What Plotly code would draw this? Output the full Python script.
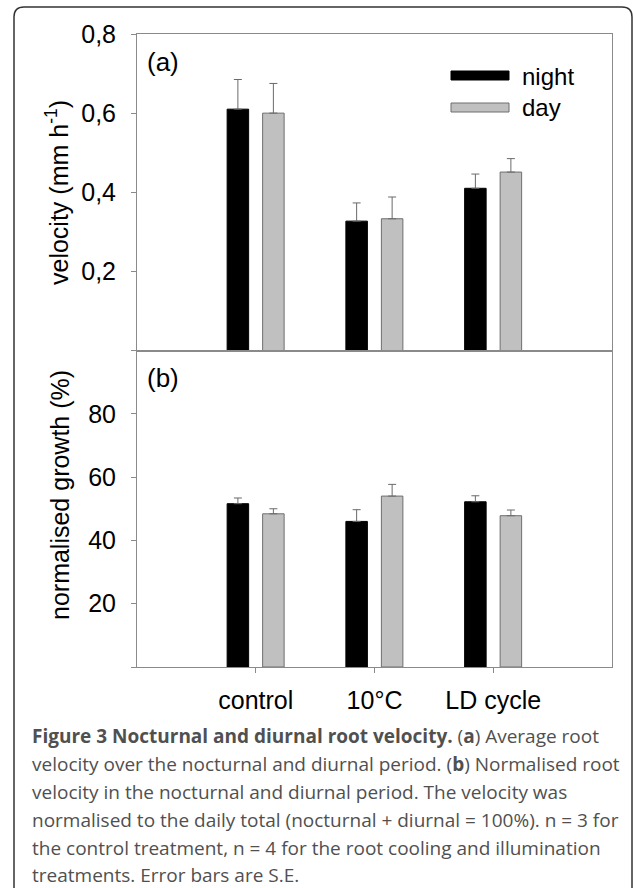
import plotly.graph_objects as go

# ---- data ----
categories = ["control", "10°C", "LD cycle"]
cat_pos = [1, 2, 3]

vel_night = [0.61, 0.327, 0.41]
vel_night_err = [0.075, 0.046, 0.036]
vel_day = [0.60, 0.333, 0.451]
vel_day_err = [0.075, 0.055, 0.034]

norm_night = [51.6, 46.0, 52.2]
norm_night_err = [1.8, 3.7, 1.9]
norm_day = [48.4, 54.0, 47.8]
norm_day_err = [1.6, 3.7, 1.8]

vel_tickvals = [0.2, 0.4, 0.6, 0.8]
vel_ticktext = ["0,2", "0,4", "0,6", "0,8"]
norm_tickvals = [20, 40, 60, 80]
norm_ticktext = ["20", "40", "60", "80"]

caption_lines = [
    "<b>Figure 3 Nocturnal and diurnal root velocity.</b> (<b>a</b>) Average root",
    "velocity over the nocturnal and diurnal period. (<b>b</b>) Normalised root",
    "velocity in the nocturnal and diurnal period. The velocity was",
    "normalised to the daily total (nocturnal + diurnal = 100%). n = 3 for",
    "the control treatment, n = 4 for the root cooling and illumination",
    "treatments. Error bars are S.E.",
]

# ---- geometry ----
W, H = 633, 888
L, R, T, B = 137, 612, 34, 667


def px(x):
    return (x - L) / (R - L)


def py(y):
    return (B - y) / (B - T)


FONT = "Liberation Sans, Arial, sans-serif"
AX = "#8a8a8a"
BAR_W = 0.181
OFF_N = -0.241
OFF_D = 0.058

fig = go.Figure()


def add_bars(vals, errs, color, line_color, offset, xa, ya, name):
    fig.add_trace(go.Bar(
        x=cat_pos, y=vals, width=BAR_W, offset=offset, name=name,
        marker=dict(color=color, line=dict(color=line_color, width=1)),
        error_y=dict(type="data", array=errs, arrayminus=[0] * len(errs),
                     symmetric=False, color="#6a6a6a", thickness=1, width=4),
        xaxis=xa, yaxis=ya, showlegend=False,
    ))


add_bars(vel_night, vel_night_err, "#000000", "#000000", OFF_N, "x", "y", "night")
add_bars(vel_day, vel_day_err, "#c0c0c0", "#6e6e6e", OFF_D, "x", "y", "day")
add_bars(norm_night, norm_night_err, "#000000", "#000000", OFF_N, "x2", "y2", "night")
add_bars(norm_day, norm_day_err, "#c0c0c0", "#6e6e6e", OFF_D, "x2", "y2", "day")

axis_common = dict(showgrid=False, zeroline=False, showline=True, linecolor=AX,
                   linewidth=1, mirror=True)
zero_tick = dict(tickvals=[0], ticks="outside", ticklen=5, tickcolor=AX, showgrid=False)

fig.update_layout(
    width=W, height=H,
    margin=dict(l=L, r=W - R, t=T, b=H - B, pad=0),
    paper_bgcolor="white", plot_bgcolor="white",
    barmode="overlay",
    font=dict(family=FONT, color="#000000", size=22),
    xaxis=dict(domain=[0, 1], anchor="y", range=[0, 4], showticklabels=False,
               ticks="", **axis_common),
    yaxis=dict(domain=[0.5, 1], anchor="x", range=[0, 0.8], tickvals=vel_tickvals,
               ticktext=vel_ticktext, ticks="outside", ticklen=5, tickcolor=AX,
               ticklabelstandoff=10, tickfont=dict(size=25), minor=zero_tick,
               **axis_common),
    xaxis2=dict(domain=[0, 1], anchor="y2", range=[0, 4], tickvals=cat_pos,
                ticktext=categories, ticks="outside", ticklen=5, tickcolor=AX,
                ticklabelstandoff=6, tickfont=dict(size=25), **axis_common),
    yaxis2=dict(domain=[0, 0.5], anchor="x2", range=[0, 100], tickvals=norm_tickvals,
                ticktext=norm_ticktext, ticks="outside", ticklen=5, tickcolor=AX,
                ticklabelstandoff=10, tickfont=dict(size=25), minor=zero_tick,
                **axis_common),
)

ann = []
# axis titles
ann.append(dict(text="velocity (mm h<sup>-1</sup>)", x=px(57), y=py(193), xref="paper",
                yref="paper", textangle=-90, showarrow=False, xanchor="center",
                yanchor="middle", font=dict(size=25)))
ann.append(dict(text="normalised growth (%)", x=px(60), y=py(495), xref="paper",
                yref="paper", textangle=-90, showarrow=False, xanchor="center",
                yanchor="middle", font=dict(size=25)))
# panel labels
ann.append(dict(text="(a)", x=px(145), y=py(62), xref="paper", yref="paper",
                showarrow=False, xanchor="left", yanchor="middle", font=dict(size=26)))
ann.append(dict(text="(b)", x=px(145), y=py(378), xref="paper", yref="paper",
                showarrow=False, xanchor="left", yanchor="middle", font=dict(size=26)))
# legend texts
ann.append(dict(text="night", x=px(520), y=py(77), xref="paper", yref="paper",
                showarrow=False, xanchor="left", yanchor="middle", font=dict(size=24)))
ann.append(dict(text="day", x=px(520), y=py(108), xref="paper", yref="paper",
                showarrow=False, xanchor="left", yanchor="middle", font=dict(size=24)))
# caption
cap_y = [736, 764, 792, 820, 848, 875]
for line, yy in zip(caption_lines, cap_y):
    ann.append(dict(text=line, x=px(30), y=py(yy), xref="paper", yref="paper",
                    showarrow=False, xanchor="left", yanchor="middle", align="left",
                    font=dict(size=19, family="Open Sans, sans-serif", color="#505050")))
fig.update_layout(annotations=ann)

shapes = []
# legend swatches
shapes.append(dict(type="rect", xref="paper", yref="paper", x0=px(451), x1=px(509),
                   y0=py(80), y1=py(71), fillcolor="#000000",
                   line=dict(color="#000000", width=1)))
shapes.append(dict(type="rect", xref="paper", yref="paper", x0=px(451), x1=px(509),
                   y0=py(112), y1=py(103), fillcolor="#c0c0c0",
                   line=dict(color="#6e6e6e", width=1)))
# rounded outer frame
r = 10
fx0, fx1, fy0, fy1 = 14, 632, 7, 900
path = (f"M {px(fx0)},{py(fy1)} L {px(fx0)},{py(fy0 + r)} "
        f"Q {px(fx0)},{py(fy0)} {px(fx0 + r)},{py(fy0)} "
        f"L {px(fx1 - r)},{py(fy0)} Q {px(fx1)},{py(fy0)} {px(fx1)},{py(fy0 + r)} "
        f"L {px(fx1)},{py(fy1)}")
shapes.append(dict(type="path", xref="paper", yref="paper", path=path,
                   line=dict(color="#333333", width=1.5)))
fig.update_layout(shapes=shapes)

fig.write_html(
    "out.html",
    config={"displayModeBar": False},
    post_script="document.body.style.margin='0';document.body.style.overflow='hidden';",
)
